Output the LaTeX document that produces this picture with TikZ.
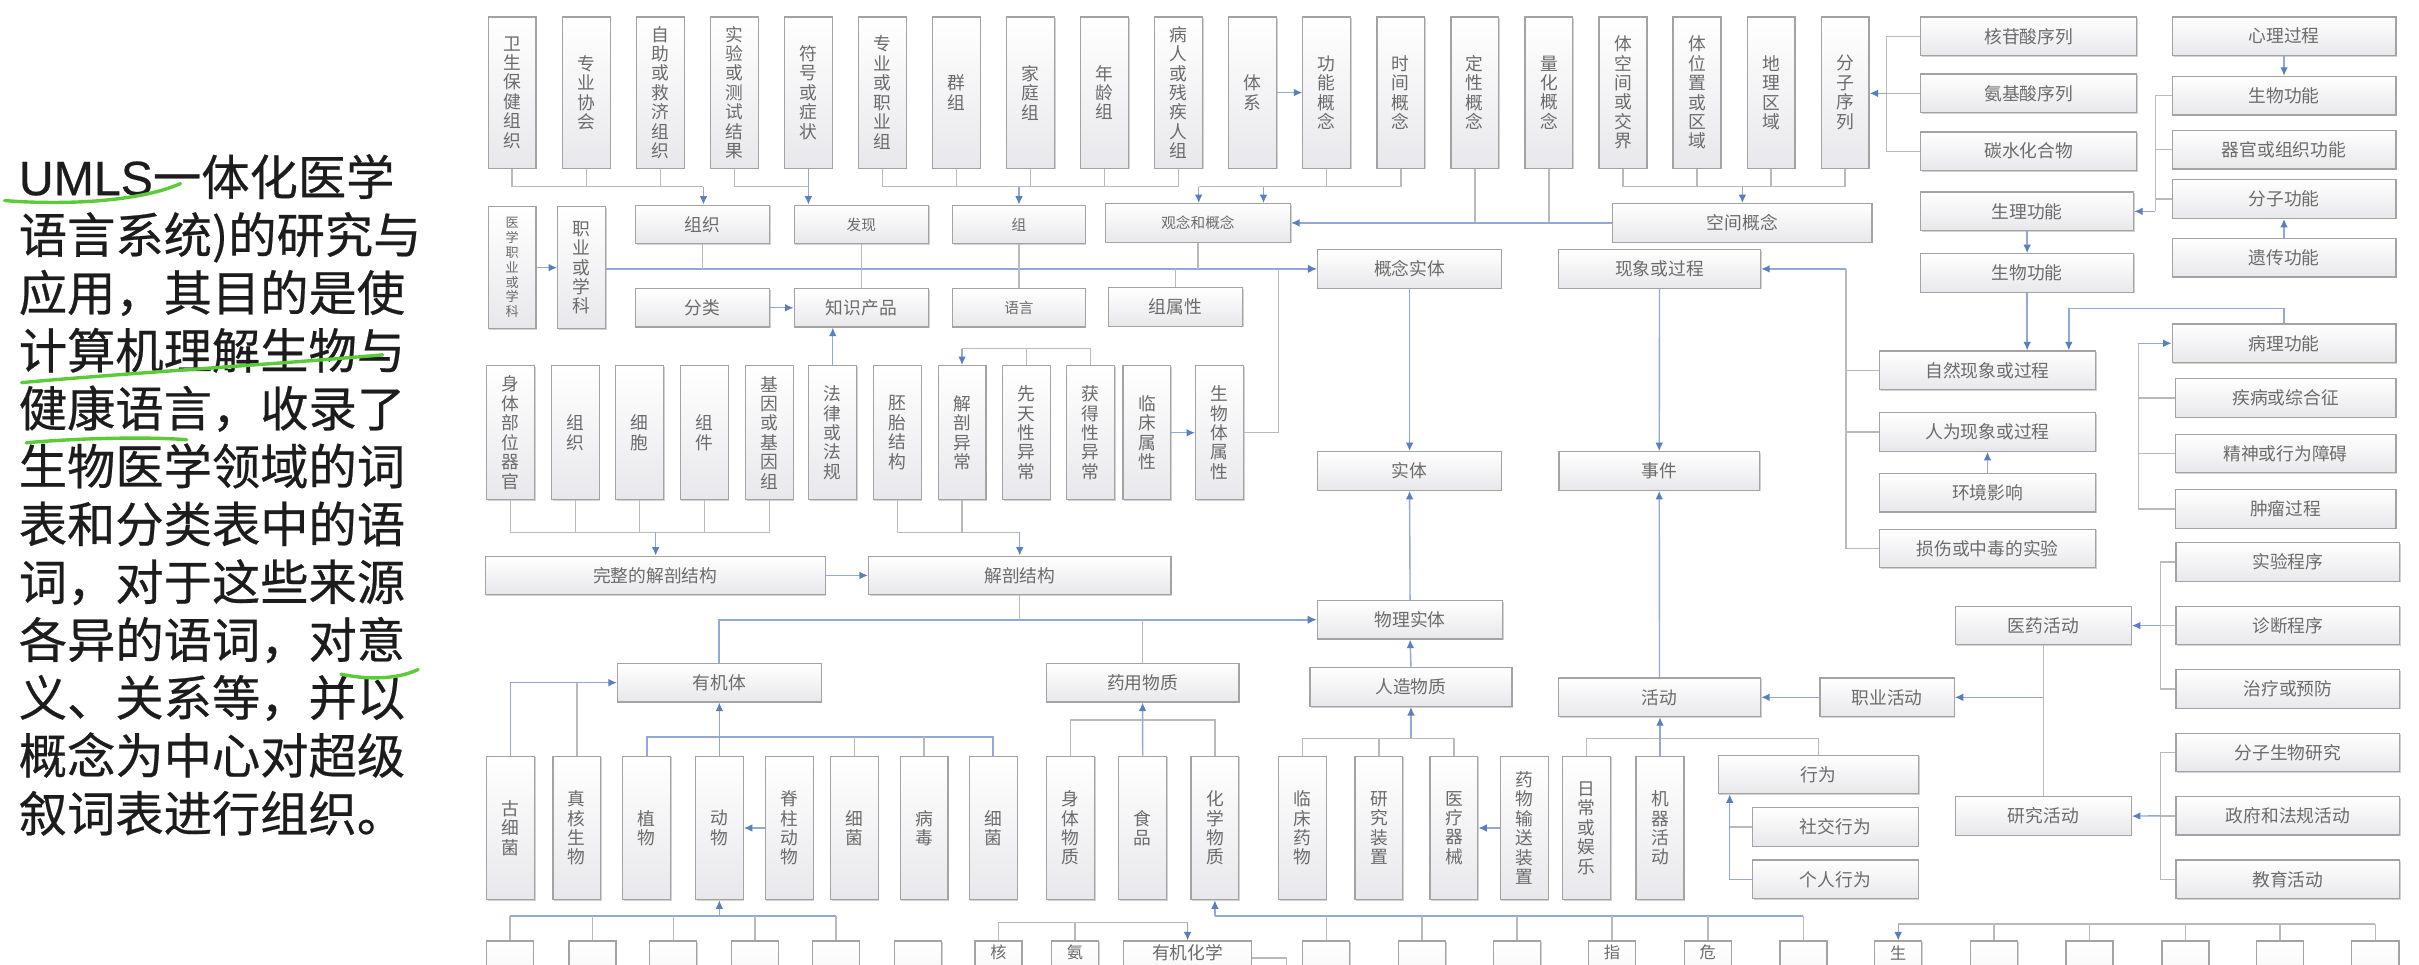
\documentclass[tikz,border=0pt]{standalone}
\usepackage{fontspec}
\usetikzlibrary{arrows.meta,shadows}
\newfontfamily\cjk{Noto Sans CJK SC}
\newfontfamily\cjkb[FakeBold=0.5]{Noto Sans CJK SC}
\newfontfamily\latb[FakeBold=0.5]{Liberation Sans}
\definecolor{boxc}{HTML}{A3A3A3}
\definecolor{boxf}{HTML}{E8E8EC}
\definecolor{txtc}{HTML}{6B6B6B}
\definecolor{linec}{HTML}{BABABA}
\definecolor{arrc}{HTML}{92A8D6}
\definecolor{tipc}{HTML}{5A7EC2}
\definecolor{hand}{HTML}{5CCB3A}
\definecolor{ltxt}{HTML}{1C1C1C}
\tikzset{
  bx/.style={draw=boxc, line width=0.8pt, top color=white, bottom color=boxf, inner sep=0pt,
    text=txtc, align=center, font=\cjk\fontsize{11.5}{12.6}\selectfont,
    drop shadow={shadow xshift=0.7pt, shadow yshift=-0.7pt, opacity=0.35, fill=black!50}},
  hb/.style={bx, minimum width=#1pt, minimum height=25pt},
  vb/.style={bx, minimum width=31pt, minimum height=#1pt},
  sm/.style={font=\cjk\fontsize{9.5}{10.5}\selectfont},
  btx/.style={text=txtc, inner sep=0pt, font=\cjk\fontsize{10.5}{11}\selectfont},
  ln/.style={draw=linec, line width=0.9pt},
  ar/.style={draw=arrc, line width=0.9pt, -{Latex[length=5.5pt,width=5pt,color=tipc]}},
  bus/.style={draw=arrc, line width=1.4pt},
  busar/.style={bus, -{Latex[length=6pt,width=5.5pt,color=tipc]}},
  lt/.style={text=ltxt, inner sep=0pt, anchor=base west, font=\cjkb\fontsize{31.3}{37.5}\selectfont},
  hl/.style={draw=hand, line width=2.2pt, line cap=round}
}
\begin{document}
\begin{tikzpicture}[x=1pt,y=-1pt]
\fill[white] (0,0) rectangle (1568,625);
\useasboundingbox (0,0) rectangle (1568,625);

% ---------- left text ----------
\foreach \s [count=\i] in {{\latb UMLS}一体化医学, 语言系统)的研究与, 应用，其目的是使, 计算机理解生物与, 健康语言，收录了, 生物医学领域的词, 表和分类表中的语, 词，对于这些来源, 各异的语词，对意, 义、关系等，并以, 概念为中心对超级, 叙词表进行组织。}
  \node[lt] (L\i) at (12,{126.5+37.5*(\i-1)}) {\s};
\draw[hl] (3,130) .. controls (40,133) and (90,131) .. (117,119);
\draw[hl] (14,248) .. controls (80,242) and (180,236) .. (248,230);
\draw[hl] (17,287) .. controls (50,284) and (95,283) .. (121,285);
\draw[hl] (221,437) .. controls (240,441) and (258,440) .. (271,434);

% ---------- top row ----------
\node[vb=98] (t1) at (332,60) {卫\\生\\保\\健\\组\\织};
\node[vb=98] (t2) at (380,60) {专\\业\\协\\会};
\node[vb=98] (t3) at (428,60) {自\\助\\或\\救\\济\\组\\织};
\node[vb=98] (t4) at (476,60) {实\\验\\或\\测\\试\\结\\果};
\node[vb=98] (t5) at (524,60) {符\\号\\或\\症\\状};
\node[vb=98] (t6) at (572,60) {专\\业\\或\\职\\业\\组};
\node[vb=98] (t7) at (620,60) {群\\组};
\node[vb=98] (t8) at (668,60) {家\\庭\\组};
\node[vb=98] (t9) at (716,60) {年\\龄\\组};
\node[vb=98] (t10) at (764,60) {病\\人\\或\\残\\疾\\人\\组};
\node[vb=98] (t11) at (812,60) {体\\系};
\node[vb=98] (t12) at (860,60) {功\\能\\概\\念};
\node[vb=98] (t13) at (908,60) {时\\间\\概\\念};
\node[vb=98] (t14) at (956,60) {定\\性\\概\\念};
\node[vb=98] (t15) at (1004,60) {量\\化\\概\\念};
\node[vb=98] (t16) at (1052,60) {体\\空\\间\\或\\交\\界};
\node[vb=98] (t17) at (1100,60) {体\\位\\置\\或\\区\\域};
\node[vb=98] (t18) at (1148,60) {地\\理\\区\\域};
\node[vb=98] (t19) at (1196,60) {分\\子\\序\\列};

\node[hb=140] (nuc) at (1315,23.5) {核苷酸序列};
\node[hb=140] (ami) at (1315,60.5) {氨基酸序列};
\node[hb=140] (carb) at (1315,98) {碳水化合物};
\node[hb=145] (psy) at (1480.5,23.5) {心理过程};
\node[hb=145] (bio1) at (1480.5,62) {生物功能};
\node[hb=145] (organ) at (1480.5,97) {器官或组织功能};
\node[hb=145] (mol) at (1480.5,129) {分子功能};
\node[hb=145] (gen) at (1480.5,167) {遗传功能};
\node[hb=138] (phys) at (1314,137) {生理功能};
\node[hb=138] (bio2) at (1314,177) {生物功能};

% ---------- row 2 / 3 ----------
\node[vb=79, font=\cjk\fontsize{8.5}{9.6}\selectfont] (medp) at (332,173.5) {医\\学\\职\\业\\或\\学\\科};
\node[vb=79] (occ) at (377,173.5) {职\\业\\或\\学\\科};
\node[hb=87] (orgn) at (455.5,145.5) {组织};
\node[hb=87, sm] (find) at (558.3,145.5) {发现};
\node[hb=86, sm] (grp) at (660.5,145.5) {组};
\node[hb=120, sm] (idea) at (776.5,144.5) {观念和概念};
\node[hb=168] (spat) at (1129.4,144.5) {空间概念};
\node[hb=87] (cls) at (455.5,199.5) {分类};
\node[hb=87] (kp) at (558.3,199.5) {知识产品};
\node[hb=86, sm] (lang) at (660.5,199.5) {语言};
\node[hb=87] (gattr) at (762,199) {组属性};
\node[hb=119] (ce) at (913.7,174.3) {概念实体};
\node[hb=131] (pp) at (1075.7,174.3) {现象或过程};

% ---------- row 4 ----------
\node[vb=87] (r1) at (331,280.5) {身\\体\\部\\位\\器\\官};
\node[vb=87] (r2) at (373,280.5) {组\\织};
\node[vb=87] (r3) at (414.7,280.5) {细\\胞};
\node[vb=87] (r4) at (456.5,280.5) {组\\件};
\node[vb=87] (r5) at (498.7,280.5) {基\\因\\或\\基\\因\\组};
\node[vb=87] (r6) at (539.8,280.5) {法\\律\\或\\法\\规};
\node[vb=87] (r7) at (581.6,280.5) {胚\\胎\\结\\构};
\node[vb=87] (r8) at (623.6,280.5) {解\\剖\\异\\常};
\node[vb=87] (r9) at (665.3,280.5) {先\\天\\性\\异\\常};
\node[vb=87] (r10) at (707,280.5) {获\\得\\性\\异\\常};
\node[vb=87] (r11) at (743.4,280.5) {临\\床\\属\\性};
\node[vb=87] (r12) at (790.5,280.5) {生\\物\\体\\属\\性};
\node[hb=119] (ent) at (913.7,305.3) {实体};
\node[hb=130] (evt) at (1075.5,305.3) {事件};
\node[hb=140] (nat) at (1288.3,240) {自然现象或过程};
\node[hb=140] (man) at (1288.3,280) {人为现象或过程};
\node[hb=140] (env) at (1288.3,319.3) {环境影响};
\node[hb=140] (inj) at (1288.3,355.5) {损伤或中毒的实验};
\node[hb=145] (pat) at (1480.5,222.5) {病理功能};
\node[hb=143] (dis) at (1481.5,258) {疾病或综合征};
\node[hb=143] (men) at (1481.5,294) {精神或行为障碍};
\node[hb=143] (neo) at (1481.5,330) {肿瘤过程};

% ---------- row 5 ----------
\node[hb=220.5] (fas) at (424.7,373) {完整的解剖结构};
\node[hb=196] (ana) at (661,373) {解剖结构};
\node[hb=120] (pe) at (914,401.7) {物理实体};
\node[hb=145] (exp) at (1483,364.3) {实验程序};
\node[hb=145] (dia) at (1483,405.5) {诊断程序};
\node[hb=145] (tre) at (1483,446.6) {治疗或预防};
\node[hb=114] (med) at (1324.5,405.5) {医药活动};
\node[hb=132] (orgm) at (466.3,442.5) {有机体};
\node[hb=125] (pharm) at (740.6,442.5) {药用物质};
\node[hb=131] (mm) at (914.6,445.4) {人造物质};
\node[hb=131] (act) at (1075.7,452) {活动};
\node[hb=87] (occa) at (1223.2,452) {职业活动};
\node[hb=130] (beh) at (1178.7,502) {行为};
\node[hb=107.5] (soc) at (1189.7,536) {社交行为};
\node[hb=107.5] (ind) at (1189.7,570) {个人行为};
\node[hb=114] (res) at (1324.5,529) {研究活动};
\node[hb=145] (molr) at (1483,487.7) {分子生物研究};
\node[hb=145] (gov) at (1483,528.8) {政府和法规活动};
\node[hb=145] (edu) at (1483,570) {教育活动};

\node[vb=93] (v1) at (331,536.7) {古\\细\\菌};
\node[vb=93] (v2) at (373.9,536.7) {真\\核\\生\\物};
\node[vb=93] (v3) at (419.2,536.7) {植\\物};
\node[vb=93] (v4) at (466.3,536.7) {动\\物};
\node[vb=93] (v5) at (511.6,536.7) {脊\\柱\\动\\物};
\node[vb=93] (v6) at (553.8,536.7) {细\\菌};
\node[vb=93] (v7) at (599,536.7) {病\\毒};
\node[vb=93] (v8) at (643.8,536.7) {细\\菌};
\node[vb=93] (v9) at (694,536.7) {身\\体\\物\\质};
\node[vb=93] (v10) at (740.7,536.7) {食\\品};
\node[vb=93] (v11) at (787.5,536.7) {化\\学\\物\\质};
\node[vb=93] (w1) at (844.2,536.7) {临\\床\\药\\物};
\node[vb=93] (w2) at (893.8,536.7) {研\\究\\装\\置};
\node[vb=93] (w3) at (942.4,536.7) {医\\疗\\器\\械};
\node[vb=93] (w4) at (988,536.7) {药\\物\\输\\送\\装\\置};
\node[vb=93] (w5) at (1028.4,536.7) {日\\常\\或\\娱\\乐};
\node[vb=93] (w6) at (1076,536.7) {机\\器\\活\\动};

% ---------- bottom row (cut off) ----------
\foreach \x [count=\i] in {330.5,384,436.4,489.3,541.8,595.1,647.2,696.8}
  \node[bx, minimum width=30.5pt, minimum height=60pt] (z\i) at (\x,640) {};
\node[bx, minimum width=82.7pt, minimum height=60pt] (z9) at (769.8,640) {};
\foreach \x [count=\i from 10] in {859.7,921.7,983.3,1044.8,1107,1169,1230.4,1292.5,1354.4,1416.6,1477.8,1539.7}
  \node[bx, minimum width=30.5pt, minimum height=60pt] (z\i) at (\x,640) {};
\node[btx] (zt7) at (647.2,617.5) {核};
\node[btx] (zt8) at (696.8,617.5) {氨};
\node[btx, font=\cjk\fontsize{11.5}{12}\selectfont] (zt9) at (769.8,617.5) {有机化学};
\node[btx] (zt13) at (1044.8,617.5) {指};
\node[btx] (zt14) at (1107,617.5) {危};
\node[btx] (zt16) at (1230.4,617.5) {生};

% ================= connectors =================
% top groups
\coordinate (j1) at (456,121);
\draw[ln] (t1.south) -- (t1.south |- j1) -- (j1);
\draw[ln] (t2.south) -- (t2.south |- j1);
\draw[ln] (t3.south) -- (t3.south |- j1);
\draw[ar] (j1) -- (j1 |- orgn.north);
\draw[ln] (t4.south) -- (t4.south |- j1) -- (t5.south |- j1);
\draw[ar] (t5.south) -- (t5.south |- find.north);
\coordinate (j3) at (660.5,121);
\draw[ln] (t6.south) -- (t6.south |- j1) -- (t10.south |- j1) -- (t10.south);
\foreach \n in {t7,t8,t9} \draw[ln] (\n.south) -- (\n.south |- j1);
\draw[ar] (j3) -- (j3 |- grp.north);
\coordinate (j4a) at (777,121);
\coordinate (j4b) at (819,121);
\draw[ln] (j4a) -- (t13.south |- j4a) -- (t13.south);
\draw[ln] (t12.south) -- (t12.south |- j4a);
\draw[ar] (j4a) -- (j4a |- idea.north);
\draw[ar] (j4b) -- (j4b |- idea.north);
\draw[ar] (t11.east) -- (t12.west);
\coordinate (j5) at (1129.4,121);
\draw[ln] (t16.south) -- (t16.south |- j5) -- (t19.south |- j5) -- (t19.south);
\foreach \n in {t17,t18} \draw[ln] (\n.south) -- (\n.south |- j5);
\draw[ar] (j5) -- (j5 |- spat.north);
\draw[ln] (t14.south) -- (t14.south |- spat.west);
\draw[ln] (t15.south) -- (t15.south |- spat.west);
\draw[ar] (spat.west) -- (idea.east);
% right top
\coordinate (k7) at (1223,60.5);
\draw[ln] (nuc.west) -- (nuc.west -| k7) -- (carb.west -| k7) -- (carb.west);
\draw[ln] (ami.west) -- (k7);
\draw[ar] (k7) -- (t19.east |- k7);
\draw[ar] (psy.south) -- (bio1.north);
\draw[ar] (gen.north) -- (mol.south);
\coordinate (k8) at (1397,137);
\draw[ln] (bio1.west) -- (bio1.west -| k8) -- (k8);
\draw[ln] (organ.west) -- (organ.west -| k8);
\draw[ln] (mol.west) -- (mol.west -| k8);
\draw[ar] (k8) -- (phys.east |- k8);
\draw[ar] (phys.south) -- (bio2.north);
\draw[ar] (bio2.south) -- (bio2.south |- nat.north);
\coordinate (k9) at (1341,200);
\draw[ar] (pat.north) -- (pat.north |- k9) -- (k9) -- (k9 |- nat.north);
\coordinate (k10) at (1386,222.5);
\draw[ln] (neo.west) -- (neo.west -| k10) -- (k10);
\draw[ln] (dis.west) -- (dis.west -| k10);
\draw[ln] (men.west) -- (men.west -| k10);
\draw[ar] (k10) -- (pat.west);
\coordinate (k11) at (1196.5,174.3);
\draw[ln] (inj.west) -- (inj.west -| k11) -- (k11);
\draw[ln] (nat.west) -- (nat.west -| k11);
\draw[ln] (man.west) -- (man.west -| k11);
\draw[ar] (k11) -- (pp.east);
\draw[ar] (env.north) -- (man.south);
\draw[ar] (pp.south) -- (evt.north);
\draw[ar] (ce.south) -- (ent.north);
% concept bus
\draw[ar] (medp.east) -- (occ.west);
\draw[busar] (occ.east |- ce.west) -- (ce.west);
\draw[ln] (orgn.south) -- (orgn.south |- ce.west);
\draw[ln] (find.south) -- (kp.north);
\draw[ln] (grp.south) -- (lang.north);
\draw[ln] (idea.south) -- (idea.south |- ce.west);
\draw[ln] (gattr.north) -- (gattr.north |- ce.west);
\draw[ar] (cls.east) -- (kp.west);
\draw[ar] (r6.north) -- (r6.north |- kp.south);
\coordinate (k12) at (828.6,280.5);
\draw[ln] (r12.east) -- (k12) -- (k12 |- ce.west);
\draw[ar] (r11.east) -- (r12.west);
% row 4
\coordinate (k13) at (425,345);
\draw[ln] (r1.south) -- (r1.south |- k13) -- (r5.south |- k13) -- (r5.south);
\foreach \n in {r2,r3,r4} \draw[ln] (\n.south) -- (\n.south |- k13);
\draw[ar] (k13) -- (k13 |- fas.north);
\coordinate (k14) at (661,345);
\draw[ln] (r7.south) -- (r7.south |- k14) -- (k14);
\draw[ln] (r8.south) -- (r8.south |- k14);
\draw[ar] (k14) -- (ana.north);
\coordinate (k15) at (623.6,226);
\draw[ln] (r10.north) -- (r10.north |- k15) -- (k15);
\draw[ln] (r9.north) -- (r9.north |- k15);
\draw[ar] (k15) -- (r8.north);
\draw[ar] (fas.east) -- (ana.west);
% physical bus
\draw[ln] (ana.south) -- (ana.south |- pe.west);
\draw[busar] (orgm.north) -- (orgm.north |- pe.west) -- (pe.west);
\draw[ln] (pharm.north) -- (pharm.north |- pe.west);
\draw[ar] (pe.north) -- (ent.south);
\draw[ar] (act.north) -- (evt.south);
\draw[ar] (mm.north) -- (pe.south);
% organisms
\draw[ln] (v2.north) -- (v2.north |- orgm.west);
\draw[ar] (v1.north) -- (v1.north |- orgm.west) -- (orgm.west);
\coordinate (k19) at (466.3,477.5);
\draw[bus] (v3.north) -- (v3.north |- k19) -- (v8.north |- k19) -- (v8.north);
\foreach \n in {v6,v7} \draw[ln] (\n.north) -- (\n.north |- k19);
\draw[ar] (v4.north) -- (orgm.south);
\draw[ar] (v5.west) -- (v4.east);
\coordinate (k20) at (740.7,466.7);
\draw[ln] (v9.north) -- (v9.north |- k20) -- (v11.north |- k20) -- (v11.north);
\draw[ar] (v10.north) -- (pharm.south);
\coordinate (k21) at (914.6,478.6);
\draw[ln] (w1.north) -- (w1.north |- k21) -- (w3.north |- k21) -- (w3.north);
\draw[ln] (w2.north) -- (w2.north |- k21);
\draw[ar] (k21) -- (mm.south);
\draw[ar] (w4.west) -- (w3.east);
\coordinate (k22) at (1076,478.6);
\draw[ln] (w5.north) -- (w5.north |- k22) -- (beh.north |- k22) -- (beh.north);
\draw[ar] (w6.north) -- (w6.north |- act.south);
\coordinate (k23) at (1121.2,570);
\draw[ln] (soc.west) -- (soc.west -| k23);
\draw[ar] (ind.west) -- (ind.west -| k23) -- (k23 |- beh.south);
\draw[ar] (occa.west) -- (act.east);
\coordinate (k24) at (1324.5,452);
\draw[ln] (med.south) -- (res.north);
\draw[ar] (k24) -- (occa.east);
\coordinate (k25) at (1400.3,405.5);
\draw[ln] (exp.west) -- (exp.west -| k25) -- (tre.west -| k25) -- (tre.west);
\draw[ln] (dia.west) -- (k25);
\draw[ar] (k25) -- (med.east);
\coordinate (k26) at (1400.3,528.8);
\draw[ln] (molr.west) -- (molr.west -| k26) -- (edu.west -| k26) -- (edu.west);
\draw[ln] (gov.west) -- (k26);
\draw[ar] (k26) -- (res.east);
% bottom
\coordinate (k27) at (466.3,593.5);
\draw[bus] (z1.north |- k27) -- (z5.north |- k27);
\foreach \n in {z1,z2,z3,z4,z5} \draw[ln] (\n.north) -- (\n.north |- k27);
\draw[ar] (k27) -- (v4.south);
\coordinate (k28) at (769.8,598);
\draw[ln] (z7.north) -- (z7.north |- k28) -- (k28);
\draw[ln] (z8.north) -- (z8.north |- k28);
\draw[ar] (k28) -- (z9.north);
\draw[ln] (z9.east |- 0,621) -- (834,621) -- (834,626);
\coordinate (k29) at (787.5,593.5);
\draw[bus] (k29) -- (z15.north |- k29);
\foreach \n in {z10,z11,z12,z13,z14,z15} \draw[ln] (\n.north) -- (\n.north |- k29);
\draw[ar] (k29) -- (v11.south);
\coordinate (k30) at (1230.4,599);
\draw[ln] (k30) -- (z21.north |- k30);
\foreach \n in {z17,z18,z19,z20,z21} \draw[ln] (\n.north) -- (\n.north |- k30);
\draw[ar] (k30) -- (z16.north);
\end{tikzpicture}
\end{document}
